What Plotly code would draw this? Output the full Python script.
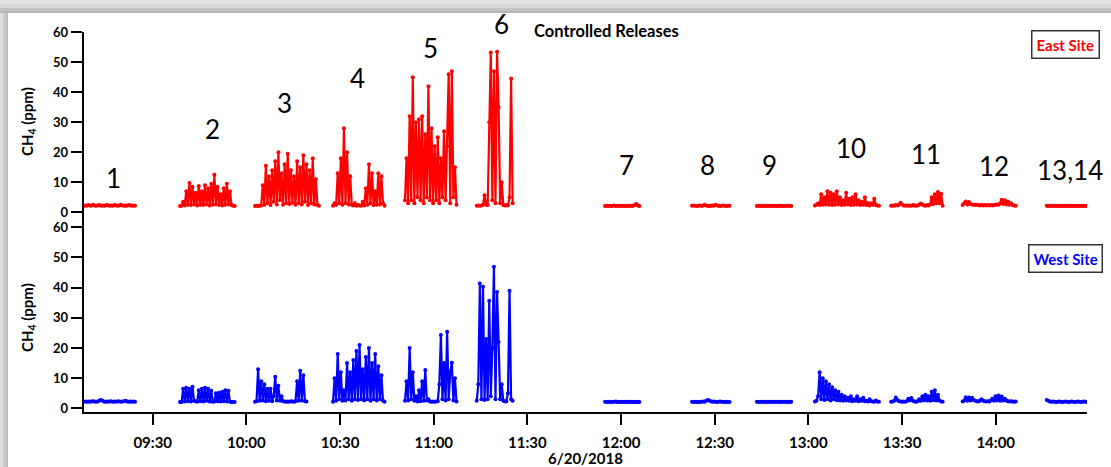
import pandas as pd
import plotly.graph_objects as go

DAY = "2018-06-20 "
STEP_S = 30  # sampling interval of the record, seconds

# ---- release windows (start time of each record block) ----
east_starts = ["09:07:50", "09:38:45", "10:02:45", "10:27:45", "10:50:48", "11:13:47",
               "11:54:52", "12:22:44", "12:43:30", "13:02:06", "13:26:30", "13:49:25", "14:16:20"]
west_starts = east_starts

# ---- East site CH4 (ppm) ----
e1 = [2.2,2.3,2.2,2.4,2.3,2.2,2.5,2.3,2.2,2.3,2.4,2.2,2.3,2.2,2.3,2.4,2.3,2.2,2.3,2.2,2.4,2.3,2.2,2.3,2.5,2.3,2.2,2.3,2.2,2.4,2.3,2.2,2.3,2.2]
e2 = [2.1,2.2,3.5,2.3,7,2.5,9.8,2.4,8.5,2.6,6.5,2.3,8.8,2.5,7,2.4,9,2.6,8,2.3,9.5,2.5,12.5,2.6,8.5,2.4,6,2.3,8,2.5,9.5,2.6,7,2.4,2.2,2.1]
e3 = [2.1,2.2,2.1,2.2,2.3,9,2.5,15.5,3,12,2.4,14,3.5,17,2.6,20,4,13,2.5,16,3,19.5,2.8,14,3.2,12,2.5,17,3,15,2.6,19,3.5,16,2.4,14,3,18,2.6,11,2.4,2.2]
e4 = [2.2,3,2.4,13,3,18,2.5,28,3,20,2.6,12,2.5,2.3,3,2.2,2.4,2.3,2.2,3.5,2.3,8,2.5,16,3,13,2.4,7,2.5,13,2.6,12,3,2.2]
e5 = [4,18,3,32,4,45,3,30,5,31,4,32,3,26,5,42,4,28,3,22,4,25,3,18,5,27,4,22,46,3,47,5,15,2.5]
e6 = [2.2,2.3,2.2,2.3,2.5,5.7,2.5,2.4,30,53.3,4,47,3,53.5,35,3,10,2.4,2.3,2.4,2.3,5,44.6,3]
e7 = [2.1,2.2,2.1,2.2,2.1,2.2,2.3,2.1,2.2,2.1,2.2,2.1,2.2,2.1,2.2,2.1,2.2,2.1,2.2,2.4,2.8,2.3,2.1]
e8 = [2.2,2.3,2.2,2.1,2.2,2.3,2.2,2.2,2.5,2.3,2.2,2.1,2.2,2.3,2.2,2.5,2.3,2.2,2.1,2.2,2.3,2.2,2.1,2.2,2.2]
e9 = [2.1,2.2,2.1,2.1,2.2,2.1,2.2,2.1,2.1,2.2,2.1,2.2,2.1,2.1,2.2,2.1,2.2,2.1,2.1,2.2,2.1,2.2,2.1]
e10 = [2.3,2.5,3,2.4,6,2.5,5,2.6,7,2.5,6.5,2.4,6,2.5,7,2.6,5,2.4,4,2.5,6.5,2.6,4.5,2.4,5,2.5,6,2.6,4,2.4,3.5,2.5,5,2.4,3,2.3,3,2.5,4.5,2.4,2.3,2.2]
e11 = [2.2,2.3,2.2,2.4,2.3,2.5,3.2,2.6,2.3,2.2,2.3,2.2,2.3,2.2,2.4,2.3,2.2,2.3,2.5,2.9,2.6,2.3,2.2,2.4,2.3,2.6,5,2.8,6,3,6.8,3,6.2,2.2]
e12 = [2.4,3,3.6,2.6,3.4,2.8,2.6,2.5,2.4,2.5,2.4,2.3,2.4,2.3,2.4,2.3,2.4,2.3,2.4,2.3,2.4,2.5,2.6,2.5,3,4.2,2.8,4,2.6,3.6,2.5,3,2.4,2.3,2.2]
e13 = [2.2,2.1,2.2,2.1,2.2,2.1,2.2,2.1,2.2,2.1,2.2,2.1,2.2,2.1,2.2,2.1,2.2,2.1,2.2,2.1,2.2,2.1,2.2,2.1,2.2,2.1,2.2]

# ---- West site CH4 (ppm) ----
w1 = [2.2,2.3,2.2,2.3,2.2,2.3,2.4,2.3,2.2,2.3,2.5,2.8,2.6,2.3,2.2,2.3,2.2,2.4,2.3,2.2,2.3,2.2,2.4,2.3,2.2,2.3,2.4,2.5,2.3,2.2,2.3,2.2,2.3,2.2]
w2 = [2.1,2.1,6.5,2.3,6.8,2.4,6.5,2.3,7.2,2.5,2.4,2.2,6,2.4,6.5,2.3,6.8,2.5,6.5,2.3,5.8,2.2,2.3,5,2.4,5.2,2.3,5.5,2.4,6,2.3,5.8,2.2,2.1,2.2,2.1]
w3 = [2.2,2.4,13,2.5,9,2.6,8,2.4,6.5,2.5,6.5,2.4,4,10.5,2.6,7.5,2.5,4,2.4,2.3,2.2,2.3,2.2,2.4,2.3,2.2,2.4,9,2.5,12.5,2.6,11,2.4,2.3]
w4 = [2.2,10,2.5,18,3,12,2.5,6,2.6,15,3,12,2.5,16,3,19,2.8,21,3,13,2.6,17,3,20,2.5,15,3,18,2.6,14,3,11,2.5,2.2]
w5 = [2.5,9,2.6,20,3,12,2.5,4,2.3,6,2.4,9,2.5,12.7,2.6,3,2.3,2.2,2.3,2.2,2.3,2.4,8,24.3,3,15,2.6,25.4,3,12,15.1,2.6,10,2.3]
w6 = [2.5,8,41.4,3,40.3,2.8,23,3,35.7,4,20,46.9,3,38.6,22,3,8,2.5,2.3,2.4,5,39,3,2.5]
w7 = [2.2,2.1,2.2,2.1,2.2,2.1,2.2,2.3,2.1,2.2,2.1,2.2,2.1,2.2,2.1,2.2,2.1,2.2,2.1,2.2,2.1,2.2,2.1]
w8 = [2.2,2.1,2.2,2.1,2.2,2.1,2.2,2.3,2.2,2.5,2.8,2.6,2.4,2.2,2.3,2.2,2.1,2.2,2.3,2.2,2.1,2.2,2.1,2.2,2.1]
w9 = [2.2,2.1,2.2,2.2,2.1,2.2,2.1,2.2,2.2,2.1,2.2,2.1,2.2,2.2,2.1,2.2,2.1,2.2,2.2,2.1,2.2,2.1,2.2]
w10 = [2.3,2.5,4,12,3,10,2.8,9,3,8,2.6,7,3,6,2.7,5.5,2.6,4.5,2.5,4,2.6,3.5,2.5,4,2.4,3,2.5,4,2.4,3,2.5,3.5,2.4,2.5,2.3,3,2.4,2.3,2.2,2.6,2.3,2.2]
w11 = [2.2,2.3,2.5,3.6,2.8,2.4,2.3,2.2,2.3,2.2,2.4,3.2,2.6,3.4,2.5,2.3,2.2,2.4,3,2.5,4,2.6,4.5,2.6,4,2.5,5.5,2.7,6,2.6,4.5,2.6,2.3,2.2]
w12 = [2.3,2.6,3.7,2.5,3.6,2.6,3.5,2.8,2.5,2.4,2.3,2.5,3,2.6,2.4,2.3,2.4,2.3,2.6,3.2,2.5,4,2.6,4.3,2.5,3.9,2.6,3.2,2.6,2.4,2.3,2.4,2.3,2.2,2.3]
w13 = [2.8,2.5,2.3,2.2,2.3,2.2,2.1,2.2,2.3,2.2,2.1,2.2,2.3,2.2,2.1,2.2,2.3,2.2,2.1,2.2,2.3,2.2,2.1,2.2,2.3,2.2,2.1]

east_blocks = [e1, e2, e3, e4, e5, e6, e7, e8, e9, e10, e11, e12, e13]
west_blocks = [w1, w2, w3, w4, w5, w6, w7, w8, w9, w10, w11, w12, w13]

# ---- release labels (time of label centre, label centre height in px from top) ----
rel_labels = ["1", "2", "3", "4", "5", "6", "7", "8", "9", "10", "11", "12", "13,14"]
rel_label_t = ["09:17:17", "09:49:18", "10:12:22", "10:35:43", "10:58:49", "11:21:52",
               "12:01:54", "12:27:50", "12:47:42", "13:13:36", "13:37:40", "13:59:29", "14:23:48"]
rel_label_px = [178, 129, 103, 78, 48, 24, 165, 165, 165, 148, 154, 166, 170]


def assemble(starts, blocks):
    xs, ys = [], []
    for s, vals in zip(starts, blocks):
        t0 = pd.Timestamp(DAY + s)
        xs += [t0 + pd.Timedelta(seconds=STEP_S * i) for i in range(len(vals))]
        ys += list(vals)
        xs.append(None)
        ys.append(None)
    return xs, ys


ex, ey = assemble(east_starts, east_blocks)
wx, wy = assemble(west_starts, west_blocks)

W, H = 1111, 467
FONT = "Lato"

def px_x(p):
    return p / W

def px_y(p):
    return (H - p) / H

fig = go.Figure()
fig.add_trace(go.Scatter(x=ex, y=ey, mode="lines+markers", name="East Site",
                         line=dict(color="#ff0000", width=2.2),
                         marker=dict(color="#ff0000", size=4, symbol="circle"),
                         xaxis="x2", yaxis="y2", showlegend=False, connectgaps=False))
fig.add_trace(go.Scatter(x=wx, y=wy, mode="lines+markers", name="West Site",
                         line=dict(color="#0000ff", width=2.2),
                         marker=dict(color="#0000ff", size=4, symbol="circle"),
                         xaxis="x", yaxis="y", showlegend=False, connectgaps=False))

x_range = [DAY + "09:07:50", DAY + "14:29:14"]
xdom = [px_x(83.5), px_x(1087)]

tickfont = dict(family=FONT, size=13, color="black", weight="bold")
yaxis_common = dict(showline=True, linecolor="black", linewidth=1.5, ticks="outside",
                    ticklen=11, tickwidth=1.5, tickcolor="black", dtick=10, tick0=0,
                    showgrid=False, zeroline=False, tickfont=tickfont, automargin=False)

fig.update_layout(
    width=W, height=H, autosize=False,
    margin=dict(l=0, r=0, t=0, b=0),
    paper_bgcolor="white", plot_bgcolor="rgba(0,0,0,0)",
    xaxis=dict(domain=xdom, range=x_range, type="date", anchor="y",
               tickformat="%H:%M", dtick=1800000, tick0=DAY + "09:30",
               ticks="outside", ticklen=11, tickwidth=1.5, tickcolor="black",
               ticklabelstandoff=5, automargin=False,
               showline=True, linecolor="black", linewidth=1.5,
               showgrid=False, zeroline=False,
               tickfont=dict(family=FONT, size=15, color="black", weight="bold")),
    xaxis2=dict(domain=xdom, range=x_range, type="date", anchor="y2", matches="x",
                automargin=False,
                showticklabels=False, ticks="", showline=False, showgrid=False, zeroline=False),
    yaxis=dict(domain=[px_y(412), px_y(227.3)], range=[-1.2, 60], anchor="x", **yaxis_common),
    yaxis2=dict(domain=[px_y(227.3), px_y(32.3)], range=[-5.0, 60], anchor="x2", **yaxis_common),
)

bold = lambda size, color="black": dict(family=FONT, size=size, color=color, weight="bold")

# axis titles
fig.add_annotation(x=px_x(585), y=px_y(458), xref="paper", yref="paper", text="6/20/2018",
                   showarrow=False, xanchor="center", yanchor="middle", font=bold(15))
for ycen in (122, 318):
    fig.add_annotation(x=px_x(28), y=px_y(ycen), xref="paper", yref="paper",
                       text="CH<sub>4</sub> (ppm)", textangle=-90, showarrow=False,
                       xanchor="center", yanchor="middle", font=bold(15))

# release number labels
for lab, t, ypx in zip(rel_labels, rel_label_t, rel_label_px):
    fig.add_annotation(x=DAY + t, y=px_y(ypx), xref="x2", yref="paper", text=lab,
                       showarrow=False, xanchor="center", yanchor="middle",
                       font=dict(family=FONT, size=26, color="black"))

fig.add_annotation(x=px_x(606), y=px_y(31), xref="paper", yref="paper", text="Controlled Releases",
                   showarrow=False, xanchor="center", yanchor="middle", font=bold(16.5))
fig.add_annotation(x=px_x(1065), y=px_y(44), xref="paper", yref="paper", text="East Site",
                   showarrow=False, xanchor="center", yanchor="middle",
                   bordercolor="#333333", borderwidth=1.5, borderpad=4, bgcolor="white",
                   font=bold(15, "#ff0000"))
fig.add_annotation(x=px_x(1065), y=px_y(258), xref="paper", yref="paper", text="West Site",
                   showarrow=False, xanchor="center", yanchor="middle",
                   bordercolor="#333333", borderwidth=1.5, borderpad=4, bgcolor="white",
                   font=bold(15, "#0000ff"))

# soft gray frame (page shadow) along top and left edges
shadow_top = [(0, 4, "#e4e4e4"), (4, 8, "#d6d6d6"), (8, 11, "#c4c4c4"), (11, 13, "#b4b4b4")]
for y0, y1, c in shadow_top:
    fig.add_shape(type="rect", xref="paper", yref="paper", x0=0, x1=1, y0=px_y(y1), y1=px_y(y0),
                  fillcolor=c, line=dict(width=0), layer="below")
shadow_left = [(0, 3, "#dedede"), (3, 6, "#cccccc"), (6, 8, "#bcbcbc")]
for x0, x1, c in shadow_left:
    fig.add_shape(type="rect", xref="paper", yref="paper", x0=px_x(x0), x1=px_x(x1), y0=0, y1=px_y(13),
                  fillcolor=c, line=dict(width=0), layer="below")

fig.write_html("out.html")
